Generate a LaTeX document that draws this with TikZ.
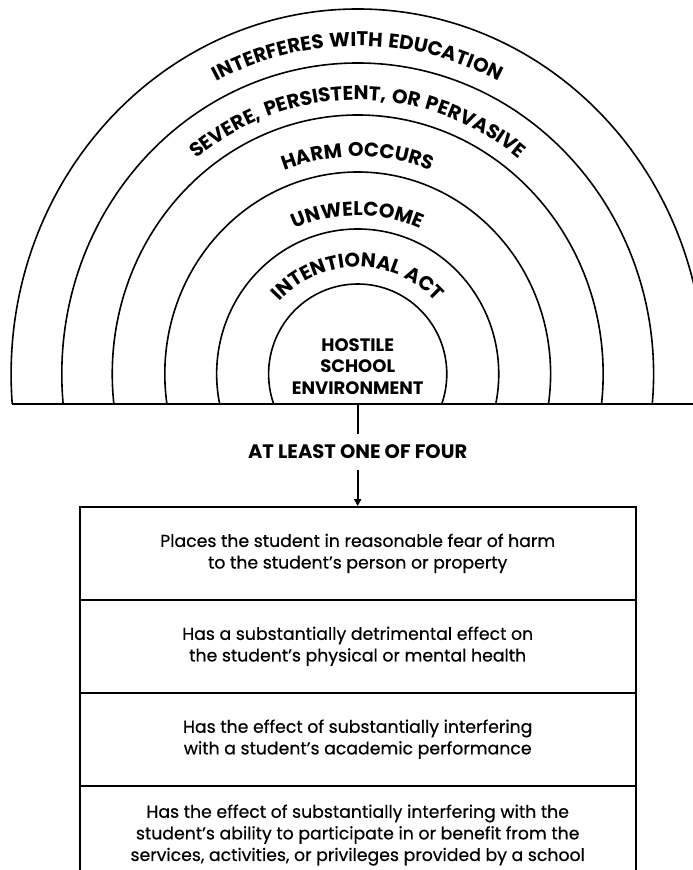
\documentclass[tikz,border=0pt]{standalone}
\usepackage{fontspec}
\setmainfont{Poppins}
\newfontfamily\arcfam[LetterSpace=6]{Poppins}
\newfontfamily\boxfam[FakeBold=0.5]{Poppins}
\usetikzlibrary{decorations.text,arrows.meta}
\tikzset{
  arch/.style={line width=1.6pt},
  boxrow/.style={draw, line width=1.8pt, minimum width=556pt, minimum height=92.9pt,
    align=center, inner sep=0pt, font=\boxfam\fontsize{17.3}{21.6}\selectfont},
  conn/.style={line width=2.2pt},
}
\newcommand\arcfont{\arcfam\bfseries\fontsize{19.8}{21}\selectfont}
\newcommand\arctext[3]{\path[decorate,decoration={text along path,text align=center,
   text={|\arcfont|#3}}] ([shift={(-#1,0)}]ctr) arc[start angle=180,end angle=0,x radius=#1,y radius=#2];}
\begin{document}
\begin{tikzpicture}[x=1pt,y=1pt]
\useasboundingbox (0,0) rectangle (693,870);
\clip (0,0) rectangle (693,870);
\coordinate (ctr) at (357.7,496);
\coordinate (base) at (357.7,466);
% arches
\begin{scope}
\clip (0,466) rectangle (693,870);
\draw[arch] (ctr) ellipse[x radius=346.6, y radius=365];
\draw[arch] (ctr) ellipse[x radius=295.9, y radius=311];
\draw[arch] (ctr) ellipse[x radius=245.45, y radius=259];
\draw[arch] (ctr) ellipse[x radius=192.9, y radius=202];
\draw[arch] (ctr) ellipse[x radius=141.05, y radius=145];
\draw[arch] (ctr) ellipse[x radius=89.1, y radius=90];
\end{scope}
\draw[line width=2pt] (12,466) -- (693,466);
% curved labels
\arctext{312.9}{328}{INTERFERES WITH EDUCATION}
\arctext{260.5}{274}{SEVERE, PERSISTENT, OR PERVASIVE}
\arctext{208.4}{217.5}{HARM OCCURS}
\arctext{154.5}{158.5}{UNWELCOME}
\arctext{106.1}{107}{INTENTIONAL ACT}
% centre
\node[align=center, font=\bfseries\fontsize{18}{21.5}\selectfont] (env) at (357.7,503.7)
  {HOSTILE\\SCHOOL\\ENVIRONMENT};
% at least one of four
\node[font=\bfseries\fontsize{19.5}{21}\selectfont, inner xsep=0pt, inner ysep=11pt,
  text height=13.5pt, text depth=0pt, anchor=base] (four) at (357.7,411.5) {AT LEAST ONE OF FOUR};
% boxes
\node[boxrow] (r1) at (357.7,316.6) {Places the student in reasonable fear of harm\\to the student’s person or property};
\node[boxrow] (r2) at (357.7,223.7) {Has a substantially detrimental effect on\\the student’s physical or mental health};
\node[boxrow] (r3) at (357.7,130.8) {Has the effect of substantially interfering\\with a student’s academic performance};
\node[boxrow, minimum height=98.9pt] (r4) at (357.7,34.9) {Has the effect of substantially interfering with the\\student’s ability to participate in or benefit from the\\services, activities, or privileges provided by a school};
\draw[conn] (base) -- (four.north);
\draw[conn, -{Triangle[length=7pt,width=7pt]}] (four.south) -- (r1.north);
\end{tikzpicture}
\end{document}
